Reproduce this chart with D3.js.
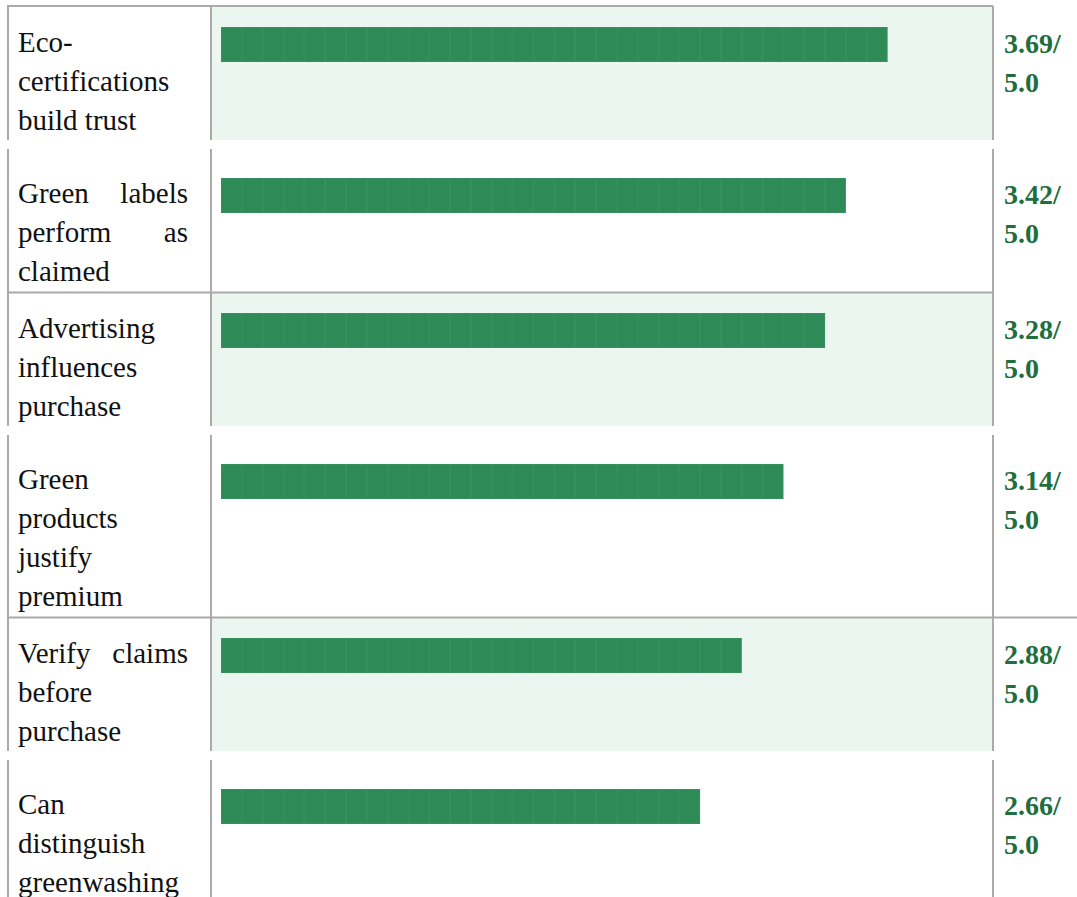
<!DOCTYPE html>
<html>
<head>
<meta charset="utf-8">
<script src="https://cdn.jsdelivr.net/npm/d3@7"></script>
<style>
  html, body { margin: 0; padding: 0; background: #fff; overflow: hidden; }
</style>
</head>
<body>
<div id="chart"></div>
<script>
// Survey statements and their mean agreement scores (out of 5)
const statements = [
  "Eco-certifications build trust",
  "Green labels perform as claimed",
  "Advertising influences purchase",
  "Green products justify premium",
  "Verify claims before purchase",
  "Can distinguish greenwashing"
];
const scores = [3.69, 3.42, 3.28, 3.14, 2.88, 2.66];
const maxScore = 5.0;

const W = 1077, H = 897;
const colLeft = 8, colBar = 211, colValue = 993;
const textX = 18, textW = 170;
const lineH = 39;
const serif = "'Liberation Serif', 'Times New Roman', serif";
const barX0 = 221, barH = 35, cell = 20.83;

const svg = d3.select("#chart").append("svg")
  .attr("width", W)
  .attr("height", H);
svg.append("rect").attr("width", W).attr("height", H).attr("fill", "#fff");

// hidden text used to measure words for wrapping
const measure = svg.append("text")
  .style("font-family", serif)
  .style("font-size", "29px")
  .attr("visibility", "hidden");
const textWidth = s => { measure.text(s); return measure.node().getComputedTextLength(); };

function wrap(label) {
  // break on spaces, and after hyphens
  const tokens = [];
  label.split(" ").forEach(w => {
    const parts = w.split(/(?<=-)/);
    parts.forEach((p, j) => tokens.push({ text: p, space: j === 0 }));
  });
  const lines = [];
  let cur = "";
  tokens.forEach(t => {
    const trial = cur === "" ? t.text : cur + (t.space ? " " : "") + t.text;
    if (cur !== "" && textWidth(trial) > textW) {
      lines.push(cur);
      cur = t.text;
    } else {
      cur = trial;
    }
  });
  if (cur !== "") lines.push(cur);
  return lines;
}

const rows = statements.map((s, i) => ({ label: s, score: scores[i], lines: wrap(s) }));

// row geometry: shaded rows come in pairs with an unshaded row
let yPos = 7;
rows.forEach((r, i) => {
  r.shaded = i % 2 === 0;
  r.top = yPos;
  r.pad = r.shaded ? 20 : 28;
  r.height = r.lines.length * lineH + (r.shaded ? 16 : 25);
  r.bottom = r.top + r.height;
  yPos = r.bottom + (r.shaded ? 10 : 1);
});

const x = d3.scaleLinear().domain([0, maxScore]).range([0, 907]);
const barWidth = v => Math.round(x(v) / cell) * cell;

const lineColor = "#aaaaaa";

// shaded background in bar column
svg.selectAll("rect.shade")
  .data(rows.filter(r => r.shaded))
  .join("rect")
  .attr("class", "shade")
  .attr("x", colBar + 1)
  .attr("y", d => d.top)
  .attr("width", colValue - colBar - 1)
  .attr("height", d => d.height)
  .attr("fill", "#ecf6f0");

// vertical cell borders per row
[colLeft, colBar, colValue].forEach(cx => {
  svg.selectAll(null)
    .data(rows)
    .join("line")
    .attr("x1", cx).attr("x2", cx)
    .attr("y1", d => d.top - 1)
    .attr("y2", d => d.bottom)
    .attr("stroke", lineColor)
    .attr("stroke-width", 2);
});

// top border
svg.append("line")
  .attr("x1", colLeft - 1).attr("x2", colValue)
  .attr("y1", 6).attr("y2", 6)
  .attr("stroke", lineColor).attr("stroke-width", 2);

// horizontal rules after each pair
svg.selectAll("line.rule")
  .data(rows.filter(r => !r.shaded))
  .join("line")
  .attr("class", "rule")
  .attr("x1", colLeft - 1)
  .attr("x2", (d, i) => i === 0 ? colValue : W)
  .attr("y1", d => d.bottom + 0.5)
  .attr("y2", d => d.bottom + 0.5)
  .attr("stroke", lineColor)
  .attr("stroke-width", 2);

// bars, made up of small cells
const barG = svg.selectAll("g.bar")
  .data(rows)
  .join("g")
  .attr("class", "bar")
  .attr("transform", d => `translate(${barX0},${d.top + d.pad})`);

barG.append("rect")
  .attr("width", d => barWidth(d.score))
  .attr("height", barH)
  .attr("fill", "#2e8b57");

barG.selectAll("rect.cell")
  .data(d => d3.range(Math.round(barWidth(d.score) / cell)).map(k => k * cell))
  .join("rect")
  .attr("class", "cell")
  .attr("x", d => d + 0.5)
  .attr("y", 0.5)
  .attr("width", cell - 1)
  .attr("height", barH - 1)
  .attr("fill", "none")
  .attr("stroke", "#4a9f71")
  .attr("stroke-opacity", 0.3)
  .attr("stroke-width", 1);

// labels, justified like the table cell text
rows.forEach(r => {
  const base = r.top + r.pad + 25;
  r.lines.forEach((ln, k) => {
    const words = ln.split(" ");
    const last = k === r.lines.length - 1;
    const t = svg.append("text")
      .attr("y", base + k * lineH)
      .style("font-family", serif)
      .style("font-size", "29px")
      .attr("fill", "#111");
    if (last || words.length < 2) {
      t.append("tspan").attr("x", textX).text(ln);
    } else {
      const ws = words.map(textWidth);
      const gap = (textW - d3.sum(ws)) / (words.length - 1);
      let cx = textX;
      words.forEach((w, j) => {
        t.append("tspan").attr("x", cx).text(w);
        cx += ws[j] + gap;
      });
    }
  });
});
measure.remove();

// score values
const valG = svg.selectAll("text.value")
  .data(rows)
  .join("text")
  .attr("class", "value")
  .style("font-family", serif)
  .style("font-size", "28px")
  .style("font-weight", "bold")
  .attr("fill", "#1f6e3d");
valG.append("tspan")
  .attr("x", 1004)
  .attr("y", d => d.top + d.pad + 26)
  .text(d => `${d.score.toFixed(2)}/`);
valG.append("tspan")
  .attr("x", 1004)
  .attr("y", d => d.top + d.pad + 26 + lineH)
  .text(maxScore.toFixed(1));
</script>
</body>
</html>
